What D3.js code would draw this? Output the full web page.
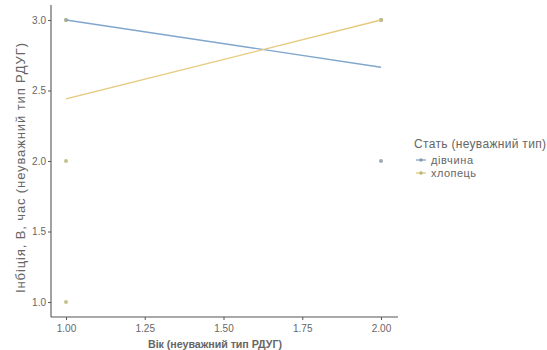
<!DOCTYPE html>
<html>
<head>
<meta charset="utf-8">
<script src="https://cdn.jsdelivr.net/npm/d3@7"></script>
<style>
  body { margin: 0; background: #fff; }
  text { font-family: "Liberation Sans", Arial, sans-serif; }
</style>
</head>
<body>
<div id="chart"></div>
<script>
// groups
var groups = ["дівчина", "хлопець"];
var groupColors = ["#7fa6cc", "#e5c97c"];

// raw points (age, inhibition)
var girlAge = [1, 2, 2];
var girlVal = [3, 3, 2];
var boyAge = [1, 1, 1, 2];
var boyVal = [3, 2, 1, 3];

// fitted lines (value at age 1 and age 2)
var lineAge = [1, 2];
var girlFit = [3.0, 2.665];
var boyFit = [2.44, 3.0];

var xTicks = [1, 1.25, 1.5, 1.75, 2];
var yTicks = [1, 1.5, 2, 2.5, 3];

var width = 547, height = 350;
var svg = d3.select("#chart").append("svg")
  .attr("width", width)
  .attr("height", height);

var x = d3.scaleLinear().domain([1, 2]).range([66, 381]);
var y = d3.scaleLinear().domain([1, 3]).range([302, 20]);

var textCol = "#666";
var axisCol = "#555";

// axes
var xAxis = svg.append("g").attr("transform", "translate(0,317)")
  .call(d3.axisBottom(x).tickValues(xTicks).tickFormat(d3.format(".2f")).tickSize(3).tickPadding(5));
xAxis.select(".domain").attr("d", "M51,0H398").attr("stroke", axisCol).attr("stroke-width", 1.1);

var yAxis = svg.append("g").attr("transform", "translate(51,0)")
  .call(d3.axisLeft(y).tickValues(yTicks).tickFormat(d3.format(".1f")).tickSize(3).tickPadding(2));
yAxis.select(".domain").attr("d", "M0,5V317").attr("stroke", axisCol).attr("stroke-width", 1.1);

svg.selectAll(".tick line").attr("stroke", axisCol);
svg.selectAll(".tick text").attr("fill", textCol).style("font-size", "10px")
  .style("font-family", "Liberation Sans, Arial, sans-serif");

// points
var pts = [];
girlAge.forEach(function(a, i) { pts.push({x: a, y: girlVal[i], g: 0}); });
boyAge.forEach(function(a, i) { pts.push({x: a, y: boyVal[i], g: 1}); });

svg.append("g").selectAll("circle")
  .data(pts)
  .enter()
  .append("circle")
  .attr("cx", function(d) { return x(d.x); })
  .attr("cy", function(d) { return y(d.y); })
  .attr("r", 2)
  .attr("fill", function(d) { return d.g == 0 ? "#8f9aa6" : "#b9b77a"; })
  .attr("fill-opacity", 0.85);

// fitted lines
var line = d3.line()
  .x(function(d) { return x(d[0]); })
  .y(function(d) { return y(d[1]); });

[girlFit, boyFit].forEach(function(fit, gi) {
  svg.append("path")
    .datum(lineAge.map(function(a, i) { return [a, fit[i]]; }))
    .attr("d", line)
    .attr("fill", "none")
    .attr("stroke", groupColors[gi])
    .attr("stroke-width", 1.3);
});

// axis titles
svg.append("text")
  .attr("x", 215).attr("y", 348)
  .attr("text-anchor", "middle")
  .attr("fill", textCol)
  .attr("textLength", 134)
  .style("font-size", "10.7px")
  .style("font-weight", "bold")
  .text("Вік (неуважний тип РДУГ)");

svg.append("text")
  .attr("transform", "translate(25,168) rotate(-90)")
  .attr("text-anchor", "middle")
  .attr("fill", textCol)
  .attr("textLength", 250)
  .style("font-size", "13px")
  .text("Інбіція, В, час (неуважний тип РДУГ)");

// legend
var legend = svg.append("g").attr("transform", "translate(414,0)");
legend.append("text")
  .attr("x", 0).attr("y", 148)
  .attr("fill", textCol)
  .attr("textLength", 132)
  .style("font-size", "12px")
  .text("Стать (неуважний тип)");

groups.forEach(function(g, i) {
  var yy = 160 + i * 13;
  legend.append("line")
    .attr("x1", 2).attr("x2", 12)
    .attr("y1", yy).attr("y2", yy)
    .attr("stroke", groupColors[i])
    .attr("stroke-width", 1.3);
  legend.append("circle")
    .attr("cx", 7).attr("cy", yy).attr("r", 1.8)
    .attr("fill", i == 0 ? "#8f9aa6" : "#b9b77a");
  legend.append("text")
    .attr("x", 17).attr("y", yy + 3.5)
    .attr("fill", textCol)
    .attr("textLength", g == "дівчина" ? 42 : 45)
    .style("font-size", "11px")
    .text(g);
});
</script>
</body>
</html>
